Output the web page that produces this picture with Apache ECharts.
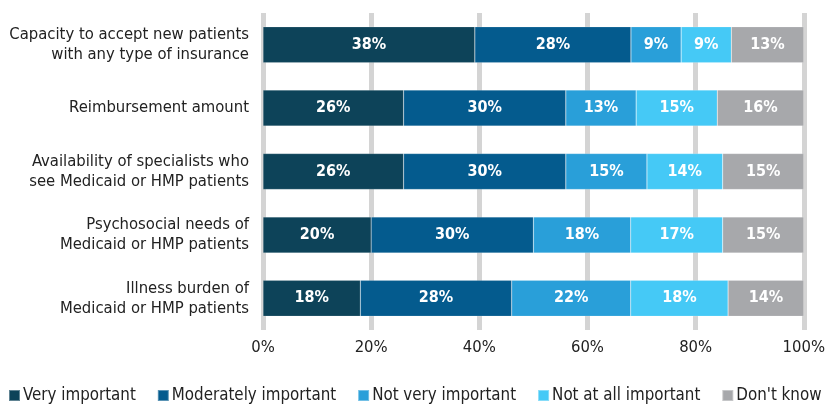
<!DOCTYPE html>
<html>
<head>
<meta charset="utf-8">
<script src="https://cdn.jsdelivr.net/npm/echarts@6/dist/echarts.min.js"></script>
<style>
  html, body { margin: 0; padding: 0; background: #fff; }
  #chart { width: 828px; height: 404px; }
</style>
</head>
<body>
<div id="chart"></div>
<script>
// categories, top to bottom
var categories = [
    "Capacity to accept new patients\nwith any type of insurance",
    "Reimbursement amount",
    "Availability of specialists who\nsee Medicaid or HMP patients",
    "Psychosocial needs of\nMedicaid or HMP patients",
    "Illness burden of\nMedicaid or HMP patients"
];
var seriesNames = ["Very important", "Moderately important", "Not very important", "Not at all important", "Don't know"];
var veryImportant = [38, 26, 26, 20, 18];
var moderatelyImportant = [28, 30, 30, 30, 28];
var notVeryImportant = [9, 13, 15, 18, 22];
var notAtAllImportant = [9, 15, 14, 17, 18];
var dontKnow = [13, 16, 15, 15, 14];
var xTicks = ["0%", "20%", "40%", "60%", "80%", "100%"];

var colors = ["#0d4359", "#045b8e", "#299fd9", "#45c9f6", "#a7a8ab"];
var FONT = "'Liberation Sans Narrow', 'DejaVu Sans Condensed', 'Roboto', sans-serif";

var raw = [veryImportant, moderatelyImportant, notVeryImportant, notAtAllImportant, dontKnow];
// each bar is drawn as share of its row total (rows are full width in the original)
var rowTotals = categories.map(function (c, i) {
    var s = 0;
    raw.forEach(function (arr) { s += arr[i]; });
    return s;
});

var series = raw.map(function (arr, k) {
    return {
        name: seriesNames[k],
        type: "bar",
        stack: "total",
        barWidth: 36,
        itemStyle: { color: colors[k], borderColor: "rgba(255,255,255,0.35)", borderWidth: 0.5 },
        label: {
            show: true,
            position: "inside",
            color: "#fff",
            fontFamily: FONT,
            fontWeight: "bold",
            fontSize: 16,
            formatter: function (p) { return arr[p.dataIndex] + "%"; }
        },
        data: arr.map(function (v, i) { return v / rowTotals[i] * 100; })
    };
});

var myChart = echarts.init(document.getElementById("chart"));
var option = {
    animation: false,
    color: colors,
    grid: { left: 263, right: 19, top: 13, bottom: 74, containLabel: false },
    legend: {
        left: 3,
        top: 382,
        width: 900,
        padding: [5, 0, 5, 5],
        itemWidth: 11,
        itemHeight: 11,
        itemGap: 21,
        icon: "rect",
        textStyle: { fontFamily: FONT, fontSize: 16.8, color: "#222", padding: [0, 0, 0, -2] },
        data: seriesNames
    },
    xAxis: {
        type: "value",
        min: 0,
        max: 100,
        interval: 20,
        axisLine: { show: false },
        axisTick: { show: false },
        splitLine: { show: true, lineStyle: { color: "#d4d4d4", width: 5 } },
        axisLabel: {
            margin: 9,
            fontFamily: FONT,
            fontSize: 16.5,
            color: "#222",
            formatter: function (v) { return xTicks[v / 20]; }
        }
    },
    yAxis: {
        type: "category",
        inverse: true,
        data: categories,
        axisLine: { show: false },
        axisTick: { show: false },
        axisLabel: {
            margin: 14,
            fontFamily: FONT,
            fontSize: 16.5,
            lineHeight: 20,
            color: "#222",
            align: "right"
        }
    },
    series: series
};
myChart.setOption(option);
</script>
</body>
</html>
